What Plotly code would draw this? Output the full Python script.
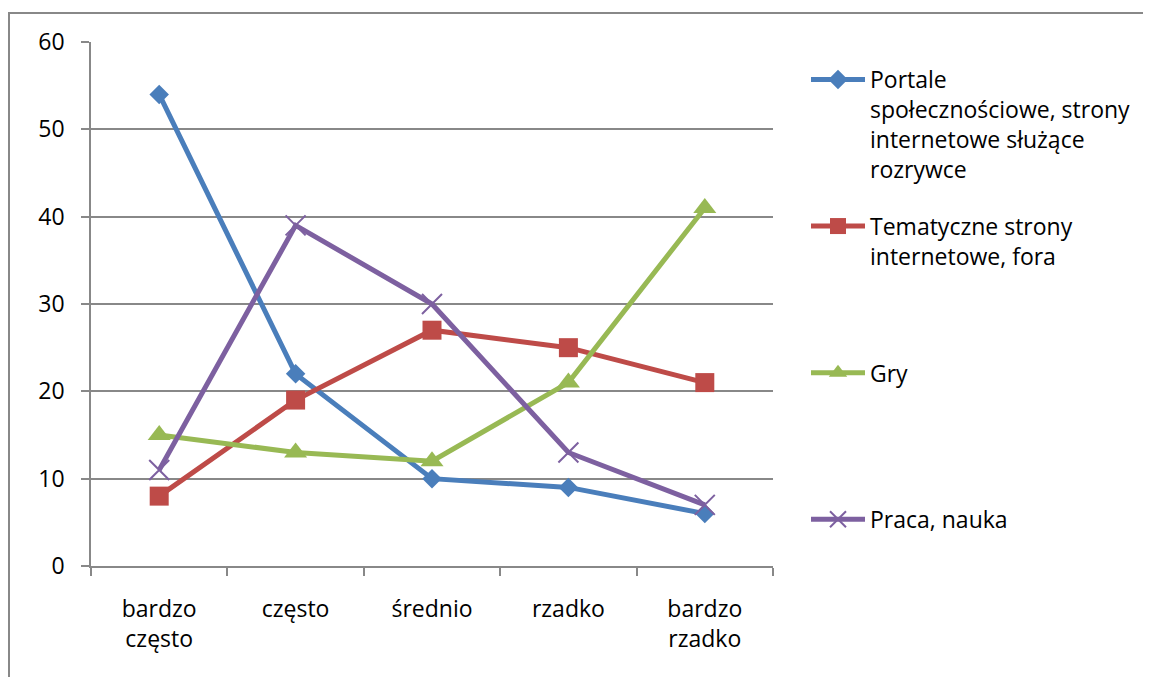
import plotly.graph_objects as go

categories = ["bardzo<br>często", "często", "średnio", "rzadko", "bardzo<br>rzadko"]
series_names = [
    "Portale<br>społecznościowe, strony<br>internetowe służące<br>rozrywce",
    "Tematyczne strony<br>internetowe, fora",
    "Gry",
    "Praca, nauka",
]
portale = [54, 22, 10, 9, 6]
tematyczne = [8, 19, 27, 25, 21]
gry = [15, 13, 12, 21, 41]
praca = [11, 39, 30, 13, 7]
y_ticks = [0, 10, 20, 30, 40, 50, 60]

colors = ["#4a7ebb", "#be4b48", "#98b954", "#7d60a0"]
symbols = ["diamond", "square", "triangle-up", "x-thin"]
sizes = [15, 19, 20, 20]
values = [portale, tematyczne, gry, praca]

# pad legend names to equal line count for even spacing
def pad(name, n=4):
    lines = name.count("<br>") + 1
    return name + "<br>&nbsp;" * (n - lines)

FONT = "Open Sans"
FS = 23
fig = go.Figure()
for i, (nm, vals) in enumerate(zip(series_names, values)):
    mk = dict(symbol=symbols[i], size=sizes[i], color=colors[i])
    if symbols[i] == "x-thin":
        mk["line"] = dict(color=colors[i], width=2)
    fig.add_trace(go.Scatter(
        x=categories, y=vals, name=pad(nm) if i < 3 else nm, mode="lines+markers",
        legendgroup="g%d" % i,
        line=dict(color=colors[i], width=5), marker=mk,
    ))

# target plot area in page pixels; page body has an 8px margin
OFF = 8
L, R, T, B = 91, 773, 42, 566
W, H = 1151, 677
pw, ph = R - L, B - T

def px(x):
    return (x - L) / pw

def py(y):
    return (B - y) / ph

fig.add_shape(type="rect", xref="paper", yref="paper",
              x0=px(9), x1=px(1170), y0=py(13), y1=py(700),
              line=dict(color="#888888", width=2), fillcolor="rgba(0,0,0,0)", layer="below")

fig.update_layout(
    width=W, height=H,
    margin=dict(l=L - OFF, r=W - R + OFF, t=T - OFF, b=H - B + OFF, autoexpand=False),
    paper_bgcolor="white", plot_bgcolor="white",
    font=dict(family=FONT, size=FS, color="black"),
    showlegend=True,
    legend=dict(x=px(806), y=py(58), xanchor="left", yanchor="top",
                font=dict(family=FONT, size=FS, color="black"),
                itemwidth=54, valign="top", tracegroupgap=24,
                bgcolor="rgba(0,0,0,0)"),
    xaxis=dict(type="category", range=[-0.5, 4.5], tickson="boundaries",
               ticks="outside", ticklen=8, tickwidth=1.5, tickcolor="#888888",
               showgrid=False, showline=True, linecolor="#888888", linewidth=1.5,
               zeroline=False, tickfont=dict(family=FONT, size=FS, color="black"),
               ticklabelstandoff=22),
    yaxis=dict(range=[0, 60], tickvals=y_ticks, ticks="outside", ticklen=8,
               tickwidth=1.5, tickcolor="#888888",
               showgrid=True, gridcolor="#888888", gridwidth=1.5,
               showline=True, linecolor="#888888", linewidth=1.5, zeroline=False,
               tickfont=dict(family=FONT, size=FS, color="black"),
               ticklabelstandoff=12),
)
fig.write_html("out.html")
